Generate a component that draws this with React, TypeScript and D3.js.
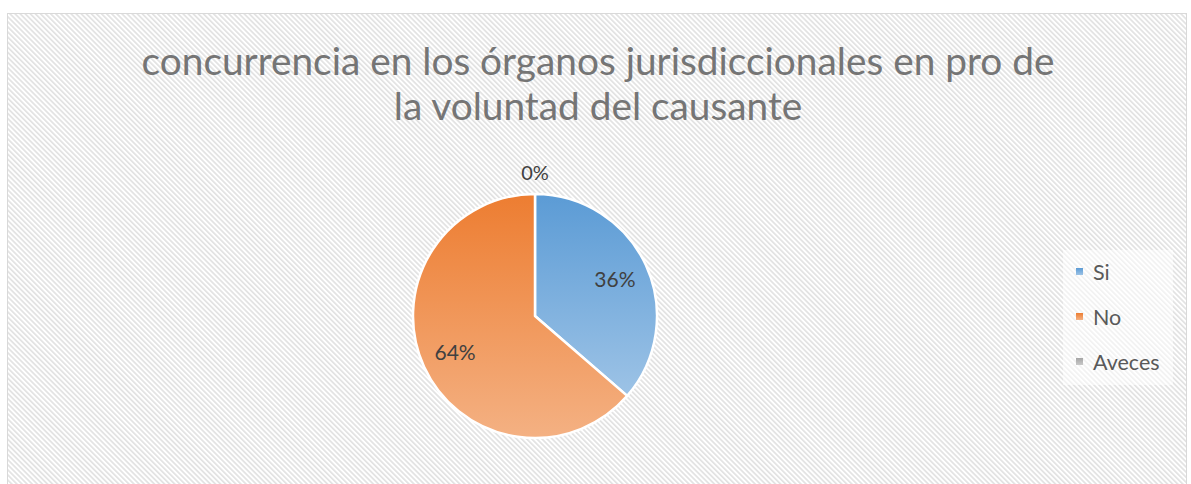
import React from "react";
import * as d3 from "d3";

const categories = ["Si", "No", "Aveces"];
const values = [4, 7, 0];
const titleLines = ["concurrencia en los órganos jurisdiccionales en pro de", "la voluntad del causante"];
const gradTop = ["#5b9bd5", "#ed7d31", "#a5a5a5"];
const gradBottom = ["#9dc3e6", "#f4b183", "#c9c9c9"];

const W = 1191, H = 484;
const cx = 535, cy = 316, R = 122;
const FONT = "Lato, 'Open Sans', sans-serif";

export default function App() {
  const pie = d3.pie<number>().sort(null).value((d) => d);
  const arcs = pie(values);
  const arcGen = d3.arc<d3.PieArcDatum<number>>().innerRadius(0).outerRadius(R);
  const labelArc = d3.arc<d3.PieArcDatum<number>>().innerRadius(R * 0.72).outerRadius(R * 0.72);
  const total = d3.sum(values);
  const fmt = (v: number) => `${Math.round((v / total) * 100)}%`;
  const legendY = d3.scalePoint<string>().domain(categories).range([272, 362]);

  return (
    <svg width={W} height={H} style={{ position: "absolute", left: 0, top: 0 }}>
      <defs>
        <pattern id="stripes" patternUnits="userSpaceOnUse" width={3.6} height={3.6} patternTransform="rotate(-45)">
          <rect width={3.6} height={3.6} fill="#ffffff" />
          <rect x={0} y={0} width={1.7} height={3.6} fill="#e2e2e2" />
        </pattern>
        {categories.map((c, i) => (
          <linearGradient key={c} id={`g${i}`} x1="0" y1="0" x2="0" y2="1">
            <stop offset="0" stopColor={gradTop[i]} />
            <stop offset="1" stopColor={gradBottom[i]} />
          </linearGradient>
        ))}
      </defs>
      <rect x={0} y={0} width={W} height={H} fill="#ffffff" />
      <rect x={7.5} y={13.5} width={1179} height={480} fill="url(#stripes)" stroke="#d9d9d9" strokeWidth={1} />
      {titleLines.map((t, i) => (
        <text key={i} x={598} y={75 + i * 45} textAnchor="middle" fontFamily={FONT} fontSize={38.8} fill="#757575">
          {t}
        </text>
      ))}
      <g transform={`translate(${cx},${cy})`}>
        {arcs.map((a, i) => (
          <path key={i} d={arcGen(a) || ""} fill={`url(#g${i})`} stroke="#ffffff" strokeWidth={values[i] > 0 ? 2.5 : 0} strokeLinejoin="round" />
        ))}
        {arcs.map((a, i) => {
          if (values[i] === 0) {
            return (
              <text key={`l${i}`} x={0} y={-R - 14} textAnchor="middle" fontFamily={FONT} fontSize={20} fill="#404040">
                {fmt(values[i])}
              </text>
            );
          }
          const [lx, ly] = labelArc.centroid(a);
          return (
            <text key={`l${i}`} x={lx} y={ly} dy="0.35em" textAnchor="middle" fontFamily={FONT} fontSize={21} fill="#404040">
              {fmt(values[i])}
            </text>
          );
        })}
      </g>
      <rect x={1063} y={250} width={110} height={135} fill="#ffffff" opacity={0.55} />
      {categories.map((c, i) => (
        <g key={c} transform={`translate(1076,${legendY(c)})`}>
          <rect x={0} y={-4} width={7} height={7} fill={`url(#g${i})`} />
          <text x={17} y={0} dy="0.35em" fontFamily={FONT} fontSize={21.5} fill="#595959">
            {c}
          </text>
        </g>
      ))}
    </svg>
  );
}
